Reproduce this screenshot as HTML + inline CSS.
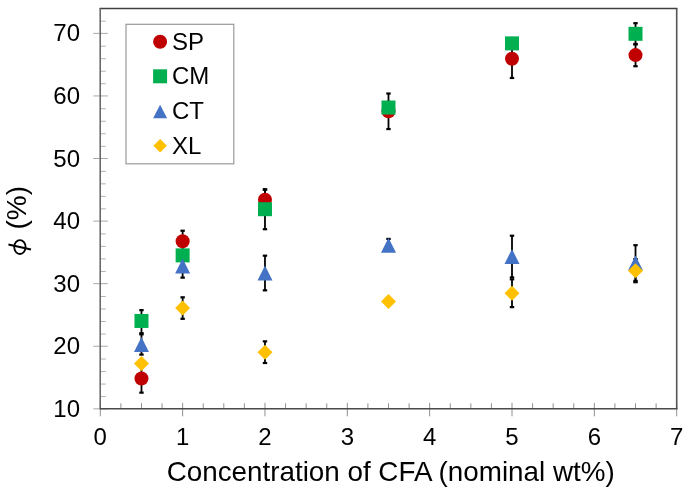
<!DOCTYPE html>
<html><head><meta charset="utf-8"><style>
html,body{margin:0;padding:0;background:#fff;}
svg{display:block;filter:blur(0.35px);}
text{font-family:"Liberation Sans",sans-serif;fill:#000;}
</style></head><body>
<svg width="688" height="498" viewBox="0 0 688 498">
<rect width="688" height="498" fill="#fff"/>
<line x1="93.30" y1="408.80" x2="107.80" y2="408.80" stroke="#a8a8a8" stroke-width="1"/>
<line x1="100.30" y1="396.59" x2="105.80" y2="396.59" stroke="#b0b0b0" stroke-width="1"/>
<line x1="100.30" y1="384.07" x2="105.80" y2="384.07" stroke="#b0b0b0" stroke-width="1"/>
<line x1="100.30" y1="371.56" x2="105.80" y2="371.56" stroke="#b0b0b0" stroke-width="1"/>
<line x1="100.30" y1="359.04" x2="105.80" y2="359.04" stroke="#b0b0b0" stroke-width="1"/>
<line x1="93.30" y1="346.23" x2="107.80" y2="346.23" stroke="#a8a8a8" stroke-width="1"/>
<line x1="100.30" y1="334.02" x2="105.80" y2="334.02" stroke="#b0b0b0" stroke-width="1"/>
<line x1="100.30" y1="321.50" x2="105.80" y2="321.50" stroke="#b0b0b0" stroke-width="1"/>
<line x1="100.30" y1="308.99" x2="105.80" y2="308.99" stroke="#b0b0b0" stroke-width="1"/>
<line x1="100.30" y1="296.47" x2="105.80" y2="296.47" stroke="#b0b0b0" stroke-width="1"/>
<line x1="93.30" y1="283.66" x2="107.80" y2="283.66" stroke="#a8a8a8" stroke-width="1"/>
<line x1="100.30" y1="271.45" x2="105.80" y2="271.45" stroke="#b0b0b0" stroke-width="1"/>
<line x1="100.30" y1="258.93" x2="105.80" y2="258.93" stroke="#b0b0b0" stroke-width="1"/>
<line x1="100.30" y1="246.42" x2="105.80" y2="246.42" stroke="#b0b0b0" stroke-width="1"/>
<line x1="100.30" y1="233.90" x2="105.80" y2="233.90" stroke="#b0b0b0" stroke-width="1"/>
<line x1="93.30" y1="221.09" x2="107.80" y2="221.09" stroke="#a8a8a8" stroke-width="1"/>
<line x1="100.30" y1="208.88" x2="105.80" y2="208.88" stroke="#b0b0b0" stroke-width="1"/>
<line x1="100.30" y1="196.36" x2="105.80" y2="196.36" stroke="#b0b0b0" stroke-width="1"/>
<line x1="100.30" y1="183.85" x2="105.80" y2="183.85" stroke="#b0b0b0" stroke-width="1"/>
<line x1="100.30" y1="171.33" x2="105.80" y2="171.33" stroke="#b0b0b0" stroke-width="1"/>
<line x1="93.30" y1="158.52" x2="107.80" y2="158.52" stroke="#a8a8a8" stroke-width="1"/>
<line x1="100.30" y1="146.31" x2="105.80" y2="146.31" stroke="#b0b0b0" stroke-width="1"/>
<line x1="100.30" y1="133.79" x2="105.80" y2="133.79" stroke="#b0b0b0" stroke-width="1"/>
<line x1="100.30" y1="121.28" x2="105.80" y2="121.28" stroke="#b0b0b0" stroke-width="1"/>
<line x1="100.30" y1="108.76" x2="105.80" y2="108.76" stroke="#b0b0b0" stroke-width="1"/>
<line x1="93.30" y1="95.95" x2="107.80" y2="95.95" stroke="#a8a8a8" stroke-width="1"/>
<line x1="100.30" y1="83.74" x2="105.80" y2="83.74" stroke="#b0b0b0" stroke-width="1"/>
<line x1="100.30" y1="71.22" x2="105.80" y2="71.22" stroke="#b0b0b0" stroke-width="1"/>
<line x1="100.30" y1="58.71" x2="105.80" y2="58.71" stroke="#b0b0b0" stroke-width="1"/>
<line x1="100.30" y1="46.19" x2="105.80" y2="46.19" stroke="#b0b0b0" stroke-width="1"/>
<line x1="93.30" y1="33.38" x2="107.80" y2="33.38" stroke="#a8a8a8" stroke-width="1"/>
<line x1="100.30" y1="21.17" x2="105.80" y2="21.17" stroke="#b0b0b0" stroke-width="1"/>
<line x1="100.30" y1="8.65" x2="105.80" y2="8.65" stroke="#b0b0b0" stroke-width="1"/>
<line x1="100.30" y1="402.80" x2="100.30" y2="416.30" stroke="#909090" stroke-width="1"/>
<line x1="120.88" y1="403.30" x2="120.88" y2="408.80" stroke="#909090" stroke-width="1"/>
<line x1="141.47" y1="403.30" x2="141.47" y2="408.80" stroke="#909090" stroke-width="1"/>
<line x1="162.06" y1="403.30" x2="162.06" y2="408.80" stroke="#909090" stroke-width="1"/>
<line x1="182.64" y1="402.80" x2="182.64" y2="416.30" stroke="#909090" stroke-width="1"/>
<line x1="203.23" y1="403.30" x2="203.23" y2="408.80" stroke="#909090" stroke-width="1"/>
<line x1="223.81" y1="403.30" x2="223.81" y2="408.80" stroke="#909090" stroke-width="1"/>
<line x1="244.39" y1="403.30" x2="244.39" y2="408.80" stroke="#909090" stroke-width="1"/>
<line x1="264.98" y1="402.80" x2="264.98" y2="416.30" stroke="#909090" stroke-width="1"/>
<line x1="285.56" y1="403.30" x2="285.56" y2="408.80" stroke="#909090" stroke-width="1"/>
<line x1="306.15" y1="403.30" x2="306.15" y2="408.80" stroke="#909090" stroke-width="1"/>
<line x1="326.74" y1="403.30" x2="326.74" y2="408.80" stroke="#909090" stroke-width="1"/>
<line x1="347.32" y1="402.80" x2="347.32" y2="416.30" stroke="#909090" stroke-width="1"/>
<line x1="367.91" y1="403.30" x2="367.91" y2="408.80" stroke="#909090" stroke-width="1"/>
<line x1="388.49" y1="403.30" x2="388.49" y2="408.80" stroke="#909090" stroke-width="1"/>
<line x1="409.08" y1="403.30" x2="409.08" y2="408.80" stroke="#909090" stroke-width="1"/>
<line x1="429.66" y1="402.80" x2="429.66" y2="416.30" stroke="#909090" stroke-width="1"/>
<line x1="450.25" y1="403.30" x2="450.25" y2="408.80" stroke="#909090" stroke-width="1"/>
<line x1="470.83" y1="403.30" x2="470.83" y2="408.80" stroke="#909090" stroke-width="1"/>
<line x1="491.42" y1="403.30" x2="491.42" y2="408.80" stroke="#909090" stroke-width="1"/>
<line x1="512.00" y1="402.80" x2="512.00" y2="416.30" stroke="#909090" stroke-width="1"/>
<line x1="532.59" y1="403.30" x2="532.59" y2="408.80" stroke="#909090" stroke-width="1"/>
<line x1="553.17" y1="403.30" x2="553.17" y2="408.80" stroke="#909090" stroke-width="1"/>
<line x1="573.75" y1="403.30" x2="573.75" y2="408.80" stroke="#909090" stroke-width="1"/>
<line x1="594.34" y1="402.80" x2="594.34" y2="416.30" stroke="#909090" stroke-width="1"/>
<line x1="614.92" y1="403.30" x2="614.92" y2="408.80" stroke="#909090" stroke-width="1"/>
<line x1="635.51" y1="403.30" x2="635.51" y2="408.80" stroke="#909090" stroke-width="1"/>
<line x1="656.10" y1="403.30" x2="656.10" y2="408.80" stroke="#909090" stroke-width="1"/>
<line x1="676.68" y1="402.80" x2="676.68" y2="416.30" stroke="#909090" stroke-width="1"/>
<line x1="99.60" y1="8.5" x2="677.48" y2="8.5" stroke="#404040" stroke-width="1.4"/>
<line x1="676.7" y1="8.5" x2="676.7" y2="408.80" stroke="#555" stroke-width="1.6"/>
<line x1="100.2" y1="8" x2="100.2" y2="409.50" stroke="#606060" stroke-width="1.5"/>
<line x1="100.30" y1="408.80" x2="677.48" y2="408.80" stroke="#4a4a4a" stroke-width="1.5"/>
<line x1="141.47" y1="364.38" x2="141.47" y2="392.66" stroke="#000" stroke-width="1.8"/><line x1="139.27" y1="364.38" x2="143.67" y2="364.38" stroke="#000" stroke-width="2.2"/><line x1="139.27" y1="392.66" x2="143.67" y2="392.66" stroke="#000" stroke-width="2.2"/>
<line x1="182.64" y1="230.73" x2="182.64" y2="251.87" stroke="#000" stroke-width="1.8"/><line x1="180.44" y1="230.73" x2="184.84" y2="230.73" stroke="#000" stroke-width="2.2"/><line x1="180.44" y1="251.87" x2="184.84" y2="251.87" stroke="#000" stroke-width="2.2"/>
<line x1="264.98" y1="189.81" x2="264.98" y2="209.83" stroke="#000" stroke-width="1.8"/><line x1="262.78" y1="189.81" x2="267.18" y2="189.81" stroke="#000" stroke-width="2.2"/><line x1="262.78" y1="209.83" x2="267.18" y2="209.83" stroke="#000" stroke-width="2.2"/>
<line x1="388.49" y1="93.51" x2="388.49" y2="129.05" stroke="#000" stroke-width="1.8"/><line x1="386.29" y1="93.51" x2="390.69" y2="93.51" stroke="#000" stroke-width="2.2"/><line x1="386.29" y1="129.05" x2="390.69" y2="129.05" stroke="#000" stroke-width="2.2"/>
<line x1="512.00" y1="39.45" x2="512.00" y2="77.99" stroke="#000" stroke-width="1.8"/><line x1="509.80" y1="39.45" x2="514.20" y2="39.45" stroke="#000" stroke-width="2.2"/><line x1="509.80" y1="77.99" x2="514.20" y2="77.99" stroke="#000" stroke-width="2.2"/>
<line x1="635.51" y1="43.95" x2="635.51" y2="66.23" stroke="#000" stroke-width="1.8"/><line x1="633.31" y1="43.95" x2="637.71" y2="43.95" stroke="#000" stroke-width="2.2"/><line x1="633.31" y1="66.23" x2="637.71" y2="66.23" stroke="#000" stroke-width="2.2"/>
<line x1="141.47" y1="310.13" x2="141.47" y2="333.22" stroke="#000" stroke-width="1.8"/><line x1="139.27" y1="310.13" x2="143.67" y2="310.13" stroke="#000" stroke-width="2.2"/><line x1="139.27" y1="333.22" x2="143.67" y2="333.22" stroke="#000" stroke-width="2.2"/>
<line x1="264.98" y1="189.18" x2="264.98" y2="229.22" stroke="#000" stroke-width="1.8"/><line x1="262.78" y1="189.18" x2="267.18" y2="189.18" stroke="#000" stroke-width="2.2"/><line x1="262.78" y1="229.22" x2="267.18" y2="229.22" stroke="#000" stroke-width="2.2"/>
<line x1="388.49" y1="101.89" x2="388.49" y2="113.16" stroke="#000" stroke-width="1.8"/><line x1="386.29" y1="101.89" x2="390.69" y2="101.89" stroke="#000" stroke-width="2.2"/><line x1="386.29" y1="113.16" x2="390.69" y2="113.16" stroke="#000" stroke-width="2.2"/>
<line x1="635.51" y1="23.18" x2="635.51" y2="44.45" stroke="#000" stroke-width="1.8"/><line x1="633.31" y1="23.18" x2="637.71" y2="23.18" stroke="#000" stroke-width="2.2"/><line x1="633.31" y1="44.45" x2="637.71" y2="44.45" stroke="#000" stroke-width="2.2"/>
<line x1="141.47" y1="334.34" x2="141.47" y2="354.61" stroke="#000" stroke-width="1.8"/><line x1="139.27" y1="334.34" x2="143.67" y2="334.34" stroke="#000" stroke-width="2.2"/><line x1="139.27" y1="354.61" x2="143.67" y2="354.61" stroke="#000" stroke-width="2.2"/>
<line x1="182.64" y1="254.13" x2="182.64" y2="277.65" stroke="#000" stroke-width="1.8"/><line x1="180.44" y1="254.13" x2="184.84" y2="254.13" stroke="#000" stroke-width="2.2"/><line x1="180.44" y1="277.65" x2="184.84" y2="277.65" stroke="#000" stroke-width="2.2"/>
<line x1="264.98" y1="255.69" x2="264.98" y2="290.35" stroke="#000" stroke-width="1.8"/><line x1="262.78" y1="255.69" x2="267.18" y2="255.69" stroke="#000" stroke-width="2.2"/><line x1="262.78" y1="290.35" x2="267.18" y2="290.35" stroke="#000" stroke-width="2.2"/>
<line x1="388.49" y1="238.92" x2="388.49" y2="247.68" stroke="#000" stroke-width="1.8"/><line x1="386.29" y1="238.92" x2="390.69" y2="238.92" stroke="#000" stroke-width="2.2"/><line x1="386.29" y1="247.68" x2="390.69" y2="247.68" stroke="#000" stroke-width="2.2"/>
<line x1="512.00" y1="235.73" x2="512.00" y2="277.40" stroke="#000" stroke-width="1.8"/><line x1="509.80" y1="235.73" x2="514.20" y2="235.73" stroke="#000" stroke-width="2.2"/><line x1="509.80" y1="277.40" x2="514.20" y2="277.40" stroke="#000" stroke-width="2.2"/>
<line x1="635.51" y1="245.18" x2="635.51" y2="280.84" stroke="#000" stroke-width="1.8"/><line x1="633.31" y1="245.18" x2="637.71" y2="245.18" stroke="#000" stroke-width="2.2"/><line x1="633.31" y1="280.84" x2="637.71" y2="280.84" stroke="#000" stroke-width="2.2"/>
<line x1="182.64" y1="297.30" x2="182.64" y2="318.82" stroke="#000" stroke-width="1.8"/><line x1="180.44" y1="297.30" x2="184.84" y2="297.30" stroke="#000" stroke-width="2.2"/><line x1="180.44" y1="318.82" x2="184.84" y2="318.82" stroke="#000" stroke-width="2.2"/>
<line x1="264.98" y1="341.35" x2="264.98" y2="363.00" stroke="#000" stroke-width="1.8"/><line x1="262.78" y1="341.35" x2="267.18" y2="341.35" stroke="#000" stroke-width="2.2"/><line x1="262.78" y1="363.00" x2="267.18" y2="363.00" stroke="#000" stroke-width="2.2"/>
<line x1="512.00" y1="279.34" x2="512.00" y2="307.12" stroke="#000" stroke-width="1.8"/><line x1="509.80" y1="279.34" x2="514.20" y2="279.34" stroke="#000" stroke-width="2.2"/><line x1="509.80" y1="307.12" x2="514.20" y2="307.12" stroke="#000" stroke-width="2.2"/>
<line x1="635.51" y1="259.07" x2="635.51" y2="282.22" stroke="#000" stroke-width="1.8"/><line x1="633.31" y1="259.07" x2="637.71" y2="259.07" stroke="#000" stroke-width="2.2"/><line x1="633.31" y1="282.22" x2="637.71" y2="282.22" stroke="#000" stroke-width="2.2"/>
<circle cx="141.47" cy="378.52" r="7.00" fill="#C00000"/>
<circle cx="182.64" cy="241.30" r="7.00" fill="#C00000"/>
<circle cx="264.98" cy="199.82" r="7.00" fill="#C00000"/>
<circle cx="388.49" cy="111.28" r="7.00" fill="#C00000"/>
<circle cx="512.00" cy="58.72" r="7.00" fill="#C00000"/>
<circle cx="635.51" cy="55.09" r="7.00" fill="#C00000"/>
<rect x="134.47" y="313.95" width="14.00" height="14.00" fill="#00B050"/>
<rect x="175.64" y="248.38" width="14.00" height="14.00" fill="#00B050"/>
<rect x="257.98" y="202.20" width="14.00" height="14.00" fill="#00B050"/>
<rect x="381.49" y="100.53" width="14.00" height="14.00" fill="#00B050"/>
<rect x="505.00" y="36.39" width="14.00" height="14.00" fill="#00B050"/>
<rect x="628.51" y="26.82" width="14.00" height="14.00" fill="#00B050"/>
<path d="M141.47 336.98L148.97 351.98L133.97 351.98Z" fill="#4472C4"/>
<path d="M182.64 258.39L190.14 273.39L175.14 273.39Z" fill="#4472C4"/>
<path d="M264.98 265.52L272.48 280.52L257.48 280.52Z" fill="#4472C4"/>
<path d="M388.49 237.68L395.99 252.68L380.99 252.68Z" fill="#4472C4"/>
<path d="M512.00 249.07L519.50 264.07L504.50 264.07Z" fill="#4472C4"/>
<path d="M635.51 255.51L643.01 270.51L628.01 270.51Z" fill="#4472C4"/>
<path d="M141.47 356.12L148.97 363.62L141.47 371.12L133.97 363.62Z" fill="#FFC000"/>
<path d="M182.64 300.56L190.14 308.06L182.64 315.56L175.14 308.06Z" fill="#FFC000"/>
<path d="M264.98 344.67L272.48 352.17L264.98 359.67L257.48 352.17Z" fill="#FFC000"/>
<path d="M388.49 294.12L395.99 301.62L388.49 309.12L380.99 301.62Z" fill="#FFC000"/>
<path d="M512.00 285.73L519.50 293.23L512.00 300.73L504.50 293.23Z" fill="#FFC000"/>
<path d="M635.51 263.15L643.01 270.65L635.51 278.15L628.01 270.65Z" fill="#FFC000"/>
<text x="80" y="416.80" text-anchor="end" font-size="24">10</text>
<text x="80" y="354.23" text-anchor="end" font-size="24">20</text>
<text x="80" y="291.66" text-anchor="end" font-size="24">30</text>
<text x="80" y="229.09" text-anchor="end" font-size="24">40</text>
<text x="80" y="166.52" text-anchor="end" font-size="24">50</text>
<text x="80" y="103.95" text-anchor="end" font-size="24">60</text>
<text x="80" y="41.38" text-anchor="end" font-size="24">70</text>
<text x="100.30" y="444.6" text-anchor="middle" font-size="24">0</text>
<text x="182.64" y="444.6" text-anchor="middle" font-size="24">1</text>
<text x="264.98" y="444.6" text-anchor="middle" font-size="24">2</text>
<text x="347.32" y="444.6" text-anchor="middle" font-size="24">3</text>
<text x="429.66" y="444.6" text-anchor="middle" font-size="24">4</text>
<text x="512.00" y="444.6" text-anchor="middle" font-size="24">5</text>
<text x="594.34" y="444.6" text-anchor="middle" font-size="24">6</text>
<text x="676.68" y="444.6" text-anchor="middle" font-size="24">7</text>
<text x="390.7" y="481.2" text-anchor="middle" font-size="27.8">Concentration of CFA (nominal wt%)</text>
<g transform="translate(25.8,207.7) rotate(-90)"><text x="0" y="0" text-anchor="middle" font-size="28">(%)</text></g>
<ellipse cx="19.9" cy="247.05" rx="5.7" ry="6.95" fill="none" stroke="#000" stroke-width="1.8"/>
<line x1="8.4" y1="244.5" x2="31.0" y2="249.6" stroke="#000" stroke-width="2"/>
<rect x="126" y="24.3" width="107.8" height="139.5" fill="#fff" stroke="#9a9a9a" stroke-width="1.2"/>
<circle cx="160.10" cy="41.70" r="7.00" fill="#C00000"/>
<rect x="153.10" y="69.30" width="14.00" height="14.00" fill="#00B050"/>
<path d="M160.10 104.65L167.10 118.15L153.10 118.15Z" fill="#4472C4"/>
<path d="M160.10 139.05L166.85 145.80L160.10 152.55L153.35 145.80Z" fill="#FFC000"/>
<text x="172" y="49.70" font-size="24">SP</text>
<text x="172" y="84.30" font-size="24">CM</text>
<text x="172" y="119.40" font-size="24">CT</text>
<text x="172" y="153.80" font-size="24">XL</text>
</svg>
</body></html>
